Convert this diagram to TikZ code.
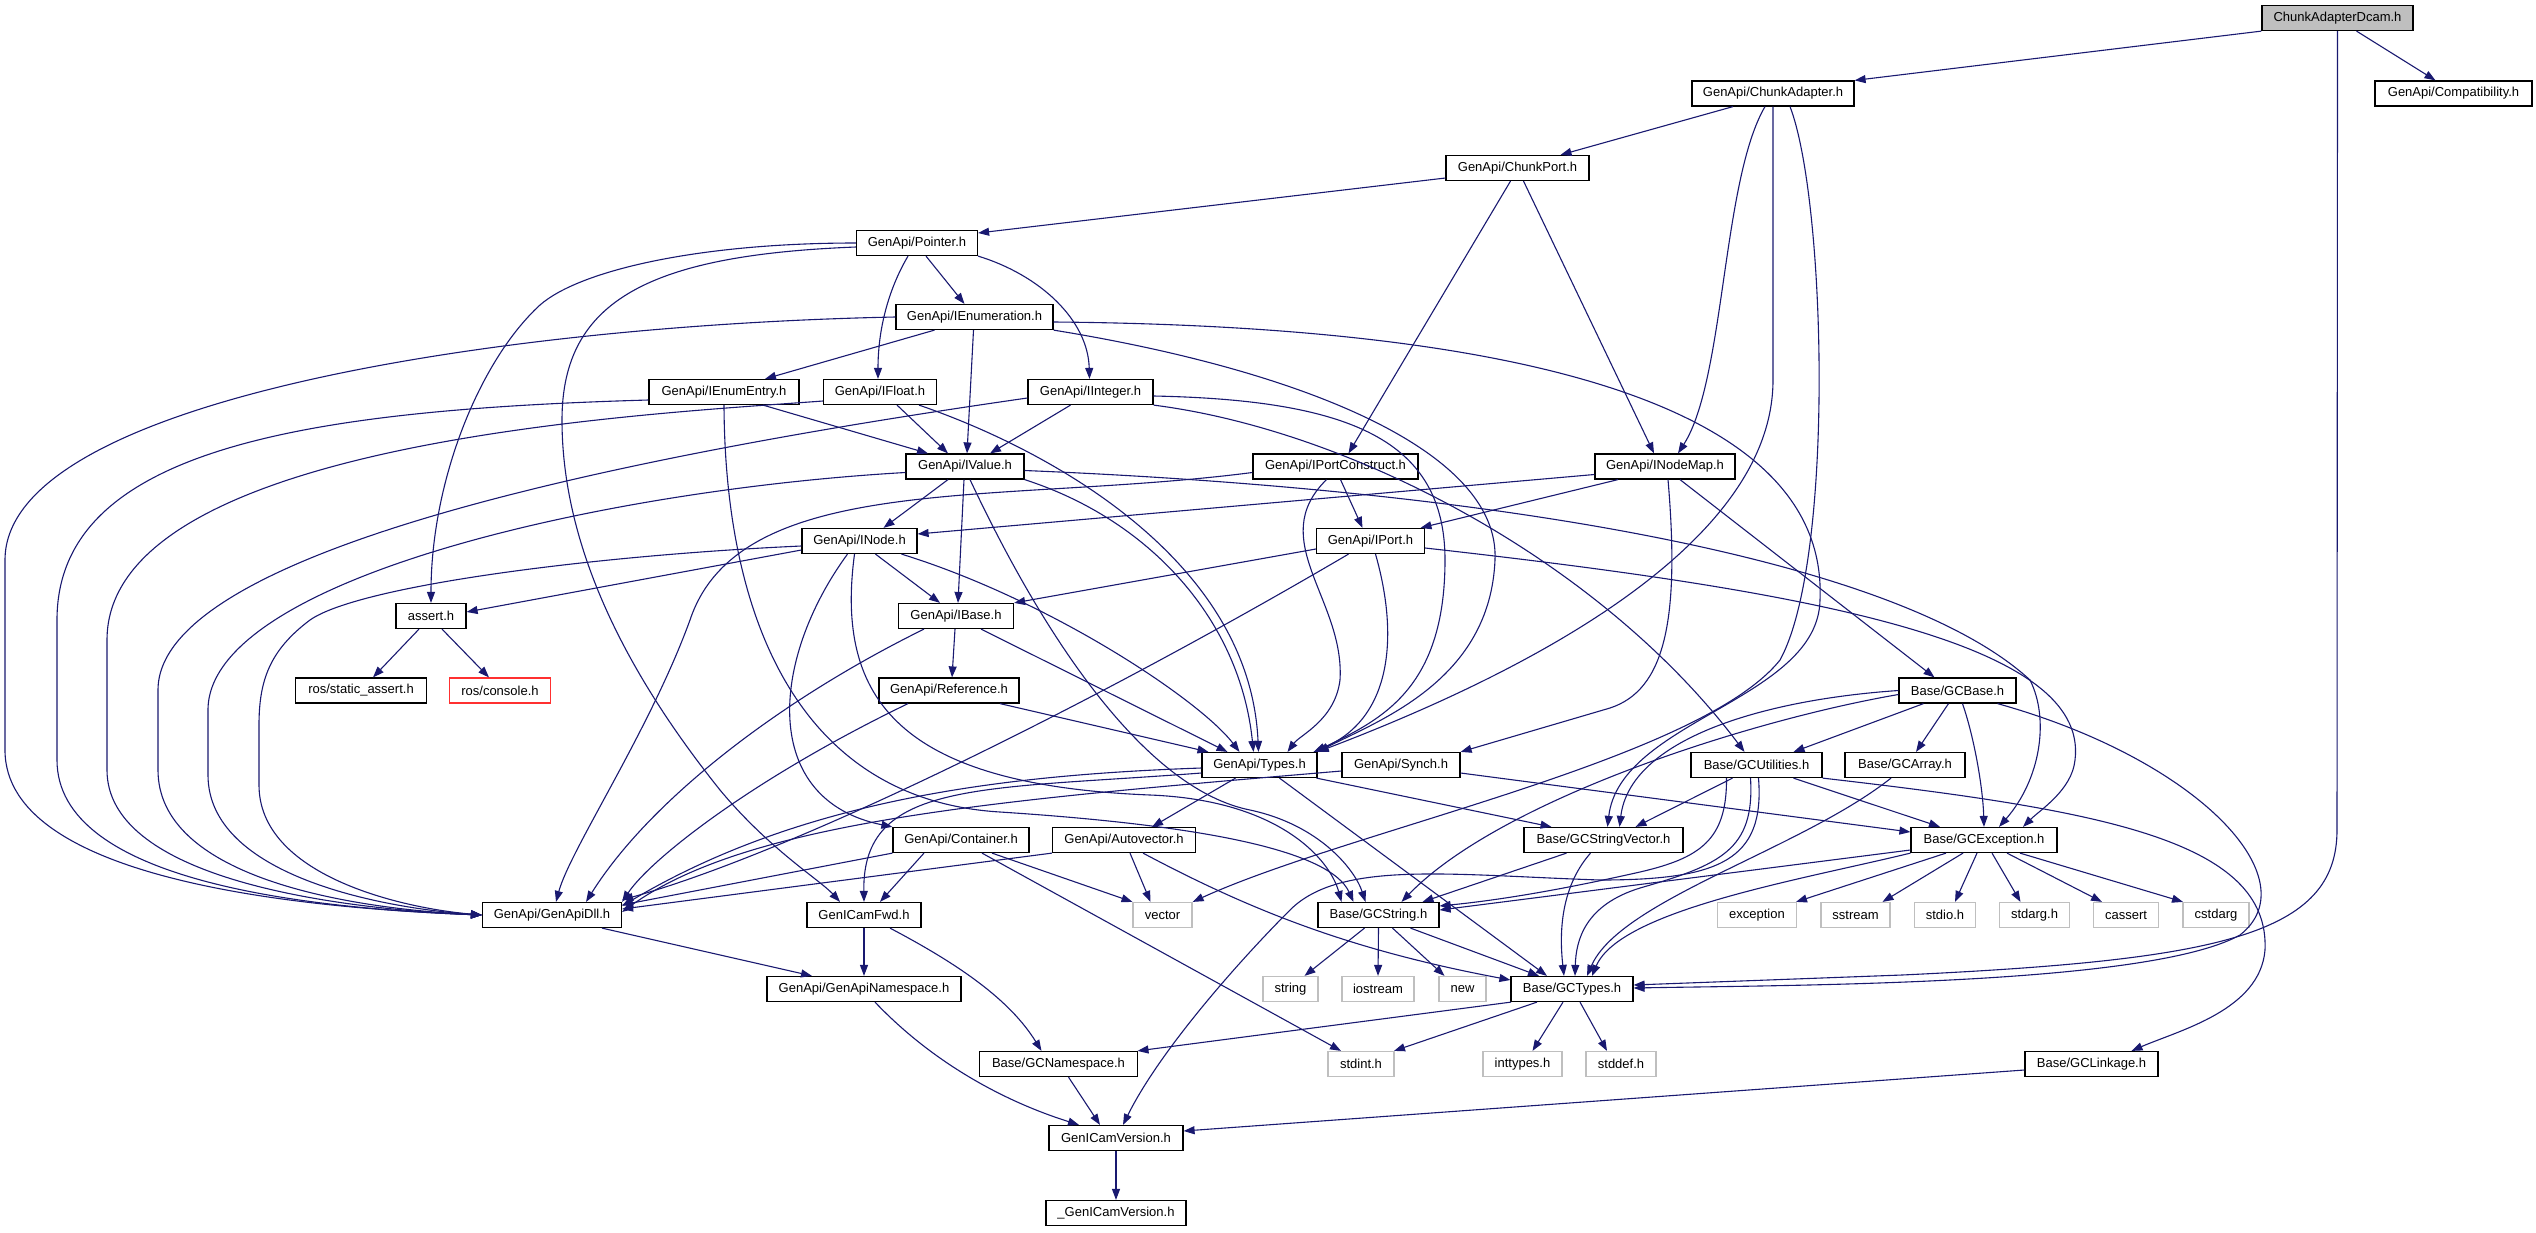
\documentclass[tikz,border=0pt]{standalone}
\usepackage{fontspec}
\setmainfont{Liberation Sans}
\usetikzlibrary{arrows.meta}
\definecolor{incl}{HTML}{191970}
\definecolor{sysline}{HTML}{BFBFBF}
\definecolor{rootfill}{HTML}{BFBFBF}
\definecolor{badline}{HTML}{FF3030}

\begin{document}
\begin{tikzpicture}
    [x=1pt,y=-1pt,
     hdr/.style={draw=black, line width=1.2pt, fill=white, rectangle, inner sep=0pt, minimum height=25pt, font=\fontsize{13}{15}\selectfont},
     syshdr/.style={hdr, draw=sysline},
     roothdr/.style={hdr, fill=rootfill},
     badhdr/.style={hdr, draw=badline},
     dep/.style={draw=incl, line width=1.1pt, -{Triangle[length=11pt,width=8pt]}}]
  \useasboundingbox (0,0) rectangle (2536,1232);

  % headers, one row after another
  \node[roothdr, minimum width=151] (dcam) at (2337.5,18) {ChunkAdapterDcam.h};
  \node[hdr, minimum width=157] (compat) at (2453.5,93.5) {GenApi/Compatibility.h};
  \node[hdr, minimum width=162] (adapter) at (1773,93.5) {GenApi/ChunkAdapter.h};
  \node[hdr, minimum width=143] (cport) at (1517.5,168) {GenApi/ChunkPort.h};
  \node[hdr, minimum width=121] (pointer) at (917,243) {GenApi/Pointer.h};
  \node[hdr, minimum width=157] (ienum) at (974.5,317) {GenApi/IEnumeration.h};
  \node[hdr, minimum width=150] (ientry) at (724,392) {GenApi/IEnumEntry.h};
  \node[hdr, minimum width=113] (ifloat) at (880,392) {GenApi/IFloat.h};
  \node[hdr, minimum width=125] (iint) at (1090.5,392) {GenApi/IInteger.h};
  \node[hdr, minimum width=118] (ivalue) at (965,466.5) {GenApi/IValue.h};
  \node[hdr, minimum width=165] (iportc) at (1335.5,466.5) {GenApi/IPortConstruct.h};
  \node[hdr, minimum width=140] (inodemap) at (1665,466.5) {GenApi/INodeMap.h};
  \node[hdr, minimum width=115] (inode) at (859.5,541) {GenApi/INode.h};
  \node[hdr, minimum width=108] (iport) at (1370.5,541) {GenApi/IPort.h};
  \node[hdr, minimum width=70] (assert) at (431,616) {assert.h};
  \node[hdr, minimum width=115] (ibase) at (956,616) {GenApi/IBase.h};
  \node[hdr, minimum width=131] (rsa) at (361,690.5) {ros/static\_assert.h};
  \node[badhdr, minimum width=101] (rcon) at (500,690.5) {ros/console.h};
  \node[hdr, minimum width=140] (ref) at (949,690.5) {GenApi/Reference.h};
  \node[hdr, minimum width=117] (gcbase) at (1957.5,690.5) {Base/GCBase.h};
  \node[hdr, minimum width=115] (types) at (1259.5,765) {GenApi/Types.h};
  \node[hdr, minimum width=118] (synch) at (1401,765) {GenApi/Synch.h};
  \node[hdr, minimum width=131] (gcutil) at (1756.5,765) {Base/GCUtilities.h};
  \node[hdr, minimum width=120] (gcarray) at (1905,765) {Base/GCArray.h};
  \node[hdr, minimum width=136] (container) at (961,840) {GenApi/Container.h};
  \node[hdr, minimum width=143] (autovec) at (1124,840) {GenApi/Autovector.h};
  \node[hdr, minimum width=159] (gcsv) at (1603.5,840) {Base/GCStringVector.h};
  \node[hdr, minimum width=146] (gcexc) at (1984,840) {Base/GCException.h};
  \node[hdr, minimum width=139] (dll) at (552,915) {GenApi/GenApiDll.h};
  \node[hdr, minimum width=114] (fwd) at (864,915) {GenICamFwd.h};
  \node[syshdr, minimum width=59] (vector) at (1162.5,915) {vector};
  \node[hdr, minimum width=121] (gcstr) at (1378.5,915) {Base/GCString.h};
  \node[syshdr, minimum width=79] (exception) at (1757,915) {exception};
  \node[syshdr, minimum width=69] (sstream) at (1855.5,915) {sstream};
  \node[syshdr, minimum width=61] (stdio) at (1945,915) {stdio.h};
  \node[syshdr, minimum width=70] (stdarg) at (2034.5,915) {stdarg.h};
  \node[syshdr, minimum width=65] (cassert) at (2126,915) {cassert};
  \node[syshdr, minimum width=66] (cstdarg) at (2216,915) {cstdarg};
  \node[hdr, minimum width=194] (gans) at (864,989) {GenApi/GenApiNamespace.h};
  \node[syshdr, minimum width=55] (string) at (1290.5,989) {string};
  \node[syshdr, minimum width=72] (iostream) at (1378,989) {iostream};
  \node[syshdr, minimum width=47] (new) at (1462.5,989) {new};
  \node[hdr, minimum width=122] (gctypes) at (1572,989) {Base/GCTypes.h};
  \node[hdr, minimum width=158] (gcns) at (1058.5,1064) {Base/GCNamespace.h};
  \node[syshdr, minimum width=66] (stdint) at (1361,1064) {stdint.h};
  \node[syshdr, minimum width=79] (inttypes) at (1522.5,1064) {inttypes.h};
  \node[syshdr, minimum width=70] (stddef) at (1621,1064) {stddef.h};
  \node[hdr, minimum width=133] (gclink) at (2091.5,1064) {Base/GCLinkage.h};
  \node[hdr, minimum width=134] (gcver) at (1116,1138) {GenICamVersion.h};
  \node[hdr, minimum width=140] (gcver2) at (1116,1213) {\_GenICamVersion.h};

  % straight includes, bottom of one box to top of the next
  \foreach \from/\fx/\to/\tx in {dcam/19/compat/-18, adapter/-40/cport/43, cport/-7/iportc/13,
      cport/6/inodemap/-11, pointer/9/ienum/-10, ienum/-40/ientry/41, ienum/-1/ivalue/2,
      ientry/39/ivalue/-37, ifloat/17/ivalue/-17, iint/-20/ivalue/25, ivalue/-17/inode/24,
      ivalue/-1/ibase/2, iportc/5/iport/-8, inodemap/-47/iport/50, inodemap/15/gcbase/-23,
      inode/16/ibase/-16, ibase/-1/ref/3, ibase/25/types/-32, ref/51/types/-51,
      types/-24/autovec/28, types/57/gcsv/-52, types/20/gctypes/-25, container/-37/fwd/16,
      container/31/vector/-30, container/21/stdint/-20, autovec/6/vector/-12, fwd/0/gans/0,
      dll/50/gans/-52, gcns/10/gcver/-16, gcver/0/gcver2/0, gcstr/-14/string/14,
      gcstr/0/iostream/0, gcstr/14/new/-18, gcstr/32/gctypes/-33, gcsv/-37/gcstr/44,
      gctypes/-61/gcns/79, gctypes/-35/stdint/33, gctypes/-9/inttypes/10, gctypes/8/stddef/-14,
      gcbase/-34/gcutil/37, gcbase/-9/gcarray/11, gcutil/-24/gcsv/32, gcutil/37/gcexc/-44,
      gcexc/-38/exception/39, gcexc/-21/sstream/27, gcexc/-7/stdio/10, gcexc/8/stdarg/-14,
      gcexc/23/cassert/-24, gcexc/36/cstdarg/-33, assert/-12/rsa/12, assert/11/rcon/-11}
    \draw[dep] ([xshift=\fx]\from.south) -- ([xshift=\tx]\to.north);

  % the rest
  \draw[dep] (dcam.south west) -- (adapter.north east);
  \draw[dep] (dcam.south) -- (2337,830) .. controls (2337,935) and (2220,960) .. (1902,975) -- ([yshift=4pt]gctypes.east);
  \draw[dep] ([xshift=-8pt]adapter.south) .. controls (1722,180) and (1725,380) .. ([xshift=13pt]inodemap.north);
  \draw[dep] (adapter.south) -- (1773,380) .. controls (1773,560) and (1480,690) .. (types.north east);
  \draw[dep] ([xshift=17pt]adapter.south) .. controls (1826,200) and (1835,560) .. (1780,660) .. controls (1700,760) and (1350,830) .. (vector.north east);
  \draw[dep] ([yshift=-10pt]cport.west) -- ([yshift=10pt]pointer.east);
  \draw[dep] ([xshift=-9pt]pointer.south) .. controls (888,290) and (878,330) .. ([xshift=-2pt]ifloat.north);
  \draw[dep] (pointer.south east) .. controls (1040,275) and (1088,320) .. ([xshift=-1pt]iint.north);
  \draw[dep] (pointer.west) .. controls (700,243) and (580,270) .. (540,305) .. controls (480,360) and (431,480) .. (assert.north);
  \draw[dep] ([yshift=-4pt]pointer.west) .. controls (650,255) and (562,300) .. (562,420) .. controls (562,560) and (640,690) .. (720,790) .. controls (770,850) and (820,880) .. ([xshift=-24pt]fwd.north);
  \draw[dep] (ienum.west) .. controls (500,325) and (5,400) .. (5,560) -- (5,750) .. controls (5,880) and (300,908) .. (dll.west);
  \draw[dep] ([yshift=-5pt]ienum.east) .. controls (1400,325) and (1830,370) .. (1820,600) .. controls (1818,700) and (1620,720) .. ([xshift=4pt]gcsv.north);
  \draw[dep] (ienum.south east) .. controls (1300,370) and (1500,450) .. (1495,560) .. controls (1490,680) and (1380,720) .. (types.north east);
  \draw[dep] ([yshift=-8pt]ientry.west) .. controls (300,410) and (57,450) .. (57,620) -- (57,760) .. controls (57,880) and (300,908) .. (dll.west);
  \draw[dep] (ientry.south) .. controls (725,620) and (800,800) .. (1000,812) .. controls (1200,825) and (1330,850) .. ([xshift=-25pt]gcstr.north);
  \draw[dep] ([yshift=-9pt]ifloat.west) .. controls (650,414) and (107,440) .. (107,640) -- (107,770) .. controls (107,875) and (320,908) .. (dll.west);
  \draw[dep] ([xshift=39pt]ifloat.south) .. controls (1050,450) and (1250,560) .. ([xshift=-1pt]types.north);
  \draw[dep] ([yshift=-6pt]iint.west) .. controls (700,445) and (158,540) .. (158,690) -- (158,770) .. controls (158,875) and (340,908) .. (dll.west);
  \draw[dep] ([yshift=-4pt]iint.east) .. controls (1350,400) and (1445,440) .. (1445,560) .. controls (1445,690) and (1380,720) .. ([xshift=-3pt]types.north east);
  \draw[dep] (iint.south east) .. controls (1350,430) and (1600,560) .. ([xshift=-12pt]gcutil.north);
  \draw[dep] (ivalue.south east) .. controls (1150,520) and (1240,620) .. ([xshift=-6pt]types.north);
  \draw[dep] ([xshift=5pt]ivalue.south) .. controls (1050,650) and (1150,790) .. (1250,810) .. controls (1320,825) and (1355,870) .. ([xshift=-13pt]gcstr.north);
  \draw[dep] ([yshift=-6pt]ivalue.west) .. controls (600,490) and (208,580) .. (208,710) -- (208,775) .. controls (208,875) and (380,908) .. (dll.west);
  \draw[dep] ([yshift=-4pt]ivalue.east) .. controls (1500,490) and (1900,560) .. (2030,680) .. controls (2050,720) and (2040,780) .. ([xshift=15pt]gcexc.north);
  \draw[dep] ([xshift=-9pt]iportc.south) .. controls (1265,540) and (1345,600) .. (1340,680) .. controls (1335,720) and (1300,735) .. ([xshift=28pt]types.north);
  \draw[dep] ([yshift=-6pt]iportc.west) .. controls (1000,505) and (740,470) .. (690,620) .. controls (650,730) and (570,850) .. ([xshift=4pt]dll.north);
  \draw[dep] ([yshift=-8pt]inodemap.west) -- ([yshift=7pt]inode.east);
  \draw[dep] ([xshift=3pt]inodemap.south) .. controls (1680,620) and (1665,690) .. (1610,708) -- (synch.north east);
  \draw[dep] ([yshift=-9pt]inode.west) -- ([yshift=4pt]assert.east);
  \draw[dep] ([yshift=-5pt]inode.west) .. controls (600,555) and (360,585) .. (310,620) .. controls (270,650) and (259,680) .. (259,725) -- (259,785) .. controls (259,875) and (400,908) .. (dll.west);
  \draw[dep] ([xshift=42pt]inode.south) .. controls (1050,600) and (1200,700) .. ([xshift=-20pt]types.north);
  \draw[dep] ([xshift=-12pt]inode.south) .. controls (770,660) and (760,800) .. (container.north west);
  \draw[dep] ([xshift=-5pt]inode.south) .. controls (835,700) and (900,785) .. (1150,795) .. controls (1280,800) and (1330,860) .. ([xshift=-37pt]gcstr.north);
  \draw[dep] ([xshift=-32pt]ibase.south) .. controls (780,700) and (650,800) .. ([xshift=34pt]dll.north);
  \draw[dep] ([xshift=-41pt]ref.south) .. controls (750,780) and (650,860) .. (dll.north east);
  \draw[dep] ([yshift=-8pt]iport.west) -- (ibase.north east);
  \draw[dep] ([xshift=5pt]iport.south) .. controls (1400,640) and (1390,720) .. ([xshift=54pt]types.north);
  \draw[dep] ([xshift=-22pt]iport.south) .. controls (1100,700) and (800,850) .. ([yshift=2pt]dll.north east);
  \draw[dep] ([yshift=-7pt]iport.east) .. controls (1800,590) and (2090,640) .. (2075,760) .. controls (2072,790) and (2040,810) .. ([xshift=39pt]gcexc.north);
  \draw[dep] ([yshift=-3pt]types.west) .. controls (1000,775) and (800,800) .. ([yshift=9pt]dll.east);
  \draw[dep] ([yshift=-8pt]types.west) .. controls (980,790) and (862,780) .. (fwd.north);
  \draw[dep] ([yshift=-6pt]synch.west) .. controls (1000,800) and (750,820) .. ([yshift=3pt]dll.east);
  \draw[dep] ([yshift=-8pt]synch.east) -- ([yshift=8pt]gcexc.west);
  \draw[dep] (container.south west) -- ([yshift=-3pt]dll.north east);
  \draw[dep] (autovec.south west) -- ([yshift=6pt]dll.east);
  \draw[dep] ([xshift=19pt]autovec.south) .. controls (1250,910) and (1350,950) .. ([yshift=9pt]gctypes.west);
  \draw[dep] ([xshift=26pt]fwd.south) .. controls (960,965) and (1010,1000) .. ([xshift=-17pt]gcns.north);
  \draw[dep] ([xshift=11pt]gans.south) .. controls (930,1060) and (1000,1100) .. ([xshift=-37pt]gcver.north);
  \draw[dep] ([xshift=-13pt]gcsv.south) .. controls (1558,890) and (1560,940) .. ([xshift=-8pt]gctypes.north);
  \draw[dep] ([xshift=5pt]gcbase.south) .. controls (1975,740) and (1983,790) .. (gcexc.north);
  \draw[dep] ([xshift=40pt]gcbase.south) .. controls (2200,760) and (2310,880) .. (2240,935) .. controls (2150,985) and (1800,985) .. ([yshift=1pt]gctypes.east);
  \draw[dep] ([yshift=-4pt]gcbase.west) .. controls (1750,720) and (1500,800) .. ([xshift=23pt]gcstr.north);
  \draw[dep] (gcbase.west) .. controls (1760,700) and (1630,740) .. ([xshift=16pt]gcsv.north);
  \draw[dep] ([xshift=-30pt]gcutil.south) .. controls (1727,840) and (1700,858) .. (1640,872) .. controls (1560,890) and (1500,900) .. ([yshift=9pt]gcstr.east);
  \draw[dep] ([xshift=-6pt]gcutil.south) .. controls (1755,850) and (1720,865) .. (1640,888) .. controls (1585,905) and (1576,940) .. ([xshift=3pt]gctypes.north);
  \draw[dep] ([xshift=2pt]gcutil.south) .. controls (1765,860) and (1720,880) .. (1600,880) .. controls (1450,875) and (1340,860) .. (1290,910) .. controls (1240,960) and (1160,1050) .. ([xshift=7pt]gcver.north);
  \draw[dep] (gcutil.south east) .. controls (2100,810) and (2270,840) .. (2265,950) .. controls (2260,1010) and (2180,1030) .. ([xshift=40pt]gclink.north);
  \draw[dep] ([xshift=-14pt]gcarray.south) .. controls (1800,850) and (1620,900) .. ([xshift=15pt]gctypes.north);
  \draw[dep] ([yshift=-10pt]gcexc.west) -- ([yshift=5pt]gcstr.east);
  \draw[dep] (gcexc.south west) .. controls (1800,880) and (1620,910) .. ([xshift=20pt]gctypes.north);
  \draw[dep] ([yshift=-6pt]gclink.west) -- ([yshift=7pt]gcver.east);
\end{tikzpicture}
\end{document}
